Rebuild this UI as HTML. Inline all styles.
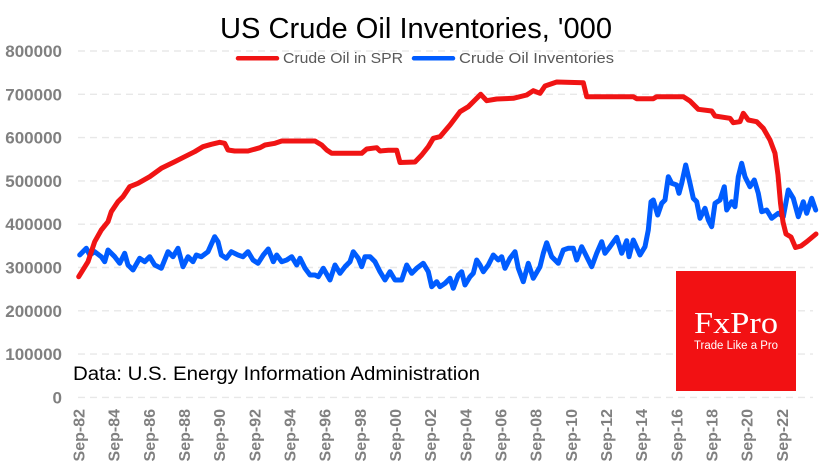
<!DOCTYPE html>
<html>
<head>
<meta charset="utf-8">
<style>
html,body{margin:0;padding:0;background:#fff;}
svg{display:block;}
</style>
</head>
<body>
<svg width="836" height="471" viewBox="0 0 836 471" xmlns="http://www.w3.org/2000/svg" font-family="Liberation Sans, Arial, sans-serif">
<rect x="0" y="0" width="836" height="471" fill="#ffffff"/>
<!-- gridlines -->
<g stroke="#e8e8e8" stroke-width="1.4" stroke-dasharray="7 5">
<line x1="78" y1="51" x2="813" y2="51"/>
<line x1="78" y1="94.3" x2="813" y2="94.3"/>
<line x1="78" y1="137.6" x2="813" y2="137.6"/>
<line x1="78" y1="180.9" x2="813" y2="180.9"/>
<line x1="78" y1="224.2" x2="813" y2="224.2"/>
<line x1="78" y1="267.5" x2="813" y2="267.5"/>
<line x1="78" y1="310.8" x2="813" y2="310.8"/>
<line x1="78" y1="354.1" x2="813" y2="354.1"/>
<line x1="78" y1="397.4" x2="813" y2="397.4"/>
</g>
<!-- y labels -->
<g fill="#808080" font-weight="bold" font-size="17" text-anchor="end">
<text x="62" y="57">800000</text>
<text x="62" y="100.3">700000</text>
<text x="62" y="143.6">600000</text>
<text x="62" y="186.9">500000</text>
<text x="62" y="230.2">400000</text>
<text x="62" y="273.5">300000</text>
<text x="62" y="316.8">200000</text>
<text x="62" y="360.1">100000</text>
<text x="62" y="403.4">0</text>
</g>
<!-- x labels -->
<g fill="#808080" font-weight="bold" font-size="16" text-anchor="end">
<text transform="translate(84.5,409) rotate(-90)">Sep-82</text>
<text transform="translate(119.7,409) rotate(-90)">Sep-84</text>
<text transform="translate(154.8,409) rotate(-90)">Sep-86</text>
<text transform="translate(190,409) rotate(-90)">Sep-88</text>
<text transform="translate(225.2,409) rotate(-90)">Sep-90</text>
<text transform="translate(260.4,409) rotate(-90)">Sep-92</text>
<text transform="translate(295.5,409) rotate(-90)">Sep-94</text>
<text transform="translate(330.7,409) rotate(-90)">Sep-96</text>
<text transform="translate(365.9,409) rotate(-90)">Sep-98</text>
<text transform="translate(401,409) rotate(-90)">Sep-00</text>
<text transform="translate(436.2,409) rotate(-90)">Sep-02</text>
<text transform="translate(471.4,409) rotate(-90)">Sep-04</text>
<text transform="translate(506.5,409) rotate(-90)">Sep-06</text>
<text transform="translate(541.7,409) rotate(-90)">Sep-08</text>
<text transform="translate(576.9,409) rotate(-90)">Sep-10</text>
<text transform="translate(612,409) rotate(-90)">Sep-12</text>
<text transform="translate(647.2,409) rotate(-90)">Sep-14</text>
<text transform="translate(682.4,409) rotate(-90)">Sep-16</text>
<text transform="translate(717.5,409) rotate(-90)">Sep-18</text>
<text transform="translate(752.7,409) rotate(-90)">Sep-20</text>
<text transform="translate(787.9,409) rotate(-90)">Sep-22</text>
</g>
<!-- title -->
<text x="220" y="38" font-size="29" fill="#000" textLength="392" lengthAdjust="spacingAndGlyphs">US Crude Oil Inventories, '000</text>
<!-- legend -->
<line x1="238" y1="58.3" x2="277" y2="58.3" stroke="#f01414" stroke-width="4.5" stroke-linecap="round"/>
<text x="283" y="63" font-size="15" fill="#595959" textLength="120" lengthAdjust="spacingAndGlyphs">Crude Oil in SPR</text>
<line x1="414" y1="58.3" x2="453" y2="58.3" stroke="#005cff" stroke-width="4.5" stroke-linecap="round"/>
<text x="459" y="63" font-size="15" fill="#595959" textLength="155" lengthAdjust="spacingAndGlyphs">Crude Oil Inventories</text>
<!-- footnote -->
<text x="73" y="380" font-size="19" fill="#000" textLength="407" lengthAdjust="spacingAndGlyphs">Data: U.S. Energy Information Administration</text>
<!-- logo -->
<rect x="676" y="271" width="120" height="120" fill="#f21113"/>
<text x="694" y="333" font-family="Liberation Serif, serif" font-size="31" fill="#fff" textLength="84" lengthAdjust="spacingAndGlyphs">FxPro</text>
<text x="694" y="349" font-size="11.5" fill="#fff" textLength="84" lengthAdjust="spacingAndGlyphs">Trade Like a Pro</text>
<!-- blue series -->
<polyline fill="none" stroke="#005cff" stroke-width="5" stroke-linejoin="round" stroke-linecap="round" points="79.7,255 86.3,248.3 89.7,255 94.7,251.7 101.3,256.7 104.7,261.7 108,250 114.7,256.7 119.7,263.3 124.7,253.3 128,265 133,270 139.7,258.3 144.7,261.7 149.7,256.7 154.7,265 161.3,268.3 168,251.7 173,256.7 178,248.3 183,266.7 188,256.7 193,261.7 196.3,255 201.3,256.7 208,251.7 214.7,236.7 218,241.7 221.3,255 226.3,258.3 231.3,251.7 238,255 243,256.7 248,251.7 253,260 258,263.3 263.3,255 268.3,249 273.3,261.7 276.7,255 281.7,261.7 286.7,260 291.7,256.7 296.7,265 300,258.3 305,268.3 310,275 315,275 318.3,276.7 323.3,268.3 330,280 335,265 340,273.3 345,266.7 350,261.7 353.3,251.7 358.3,258.3 361.7,266.7 365,256.7 370,256.7 375,261.7 380,271.7 385,280 390,271.7 395,280 401.7,280 406.7,265 411.7,273.3 416.7,268.3 423.3,263.3 428.3,271.7 431.7,286.7 436.7,281.7 440,286.7 445,283.3 450,278.3 453.3,288.3 458.3,275 461.7,271.7 465,285 470,276.7 473.3,273.3 476.7,260 480,265 483.3,271.7 488.3,265 493.3,255 498.3,260 501.7,256.7 505,268.3 510,258.3 515,251.7 518.3,268.3 523.3,281.7 528.3,263.3 533.3,278.3 540,266.7 543.3,253.3 546.7,242.7 551.7,256.7 558.3,263.3 563.3,250 568.3,248.3 573.3,248.3 576.7,260 581.7,246.7 586.7,256.7 591.7,266.7 596.7,253.3 601.7,241.7 605,253.3 610,246.7 616.7,237.3 621.7,253.3 626.7,240.7 629,256.7 633.3,240 640,255 645,246.7 648.3,230 651,201.7 653.3,200 657.7,215 661.7,203.3 665,200 668.3,176.7 671.7,183.3 676.7,185 679,193.3 681.7,183.3 685.7,165 690,183.3 693.3,198.3 696.7,201.7 700,218.3 705,208.3 708.3,220 711.7,226.7 715,203.3 720,200 724.3,186.7 726.7,210 731.7,201.7 735,206.7 738.3,176.7 741.7,163.3 745,176.7 750,186.7 754.3,180 758.3,193.3 761.7,211.7 766.7,210 771.7,218.3 778.3,213.3 783.3,216.7 788.3,190 793.3,198.3 798.3,216.7 803.3,201.7 806.7,213.3 811.7,198.3 815.7,210"/>
<!-- red series -->
<polyline fill="none" stroke="#f01414" stroke-width="5" stroke-linejoin="round" stroke-linecap="round" points="78.7,276.7 88,261.7 94.7,241.7 101.3,230 108,221.7 111.3,211.7 118,201.7 123,196.7 129.7,186.7 138,183.3 149.7,176.7 161.3,168.3 174.7,161.7 184.7,156.7 194.7,151.7 203,146.7 211.3,144.3 219.7,142.3 224.7,143.3 228,150 234.7,151 248,151 260,147.7 265,145 275,143.3 281.7,141 315,141 321.7,145 326.7,150 331.7,153.3 361.7,153.3 366.7,149 376.7,147.7 380,151 388.3,150.3 396.7,150.3 400,162.5 415,162 421.7,155 428.3,146.7 433.3,138.3 440,136.7 450,125 460,111.7 468.3,106.7 475,100 480.7,94.3 486.7,100.7 496.7,99 513.3,98.3 526.7,95 533.3,90.7 540,93.3 545,86 556.7,82 583.3,82.7 586.7,96.7 633.3,96.7 636.7,98.7 653.3,98.7 656.7,96.7 683.3,96.7 690,101 698.3,109.3 711.7,111 715,116 730,118.3 733.3,122.7 740,121.7 743.3,113.3 748.3,120 756.7,121.7 763.3,128.3 770,140 775,153.3 778,175 780.5,203 783,222 786,234 791,237 795.5,247.5 801,246 807,241.5 816,234"/>
</svg>
</body>
</html>
